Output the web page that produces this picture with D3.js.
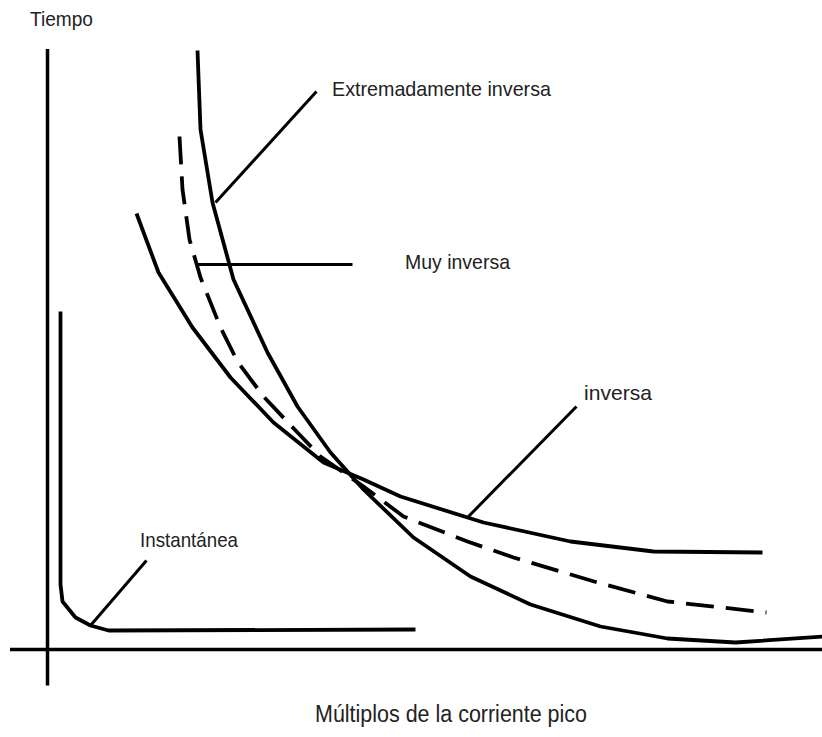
<!DOCTYPE html>
<head>
  <meta charset="utf-8">
  <script src="https://d3js.org/d3.v7.min.js"></script>
  <style>
    body { margin: 0; background: #fff; }
    svg { display: block; }
    text { font-family: "Liberation Sans Narrow", "Arial Narrow", "Liberation Sans", sans-serif; fill: #222; }
  </style>
</head>

<body>
  <script type='text/javascript'>

    // curves, in schematic units (x: multiples, y: time)
    var extremelyInverse = [[15.0, 59.9], [15.3, 52.0], [16.5, 44.7], [18.6, 37.0], [22.0, 29.7],
      [25.0, 24.3], [28.3, 19.7], [31.6, 16.0], [36.6, 11.2], [42.3, 7.3], [48.3, 4.5],
      [55.3, 2.3], [62.0, 1.1], [68.8, 0.7], [77.5, 1.3]];

    var veryInverse = [[13.2, 51.3], [13.5, 46.0], [14.2, 41.0], [15.3, 37.2], [17.3, 32.2],
      [19.0, 28.8], [21.6, 25.3], [25.0, 21.7], [27.3, 19.3], [31.6, 16.3], [35.6, 13.3],
      [42.0, 10.8], [46.6, 9.2], [55.0, 6.7], [62.0, 4.8], [71.9, 3.7]];

    var inverse = [[8.9, 43.6], [11.1, 37.7], [14.5, 32.2], [18.3, 27.2], [22.6, 22.7],
      [27.6, 18.7], [31.6, 17.0], [35.3, 15.3], [43.6, 12.7], [52.3, 10.8], [60.6, 9.8], [71.5, 9.7]];

    var instantaneous = [[1.3, 33.8], [1.3, 6.5], [1.5, 4.8], [2.8, 3.2], [4.3, 2.4], [6.1, 1.9], [36.8, 2.0]];

    // leader lines from label to curve
    var leaders = [
      [[16.8, 44.7], [26.9, 55.8]],
      [[14.9, 38.5], [30.5, 38.5]],
      [[42.1, 13.3], [52.9, 24.3]],
      [[4.3, 2.4], [9.9, 8.9]]
    ];

    var labelNames = ["Tiempo", "Extremadamente inversa", "Muy inversa", "inversa", "Instantánea", "Múltiplos de la corriente pico"];
    var labelAnchors = [[-1.75, 62.4], [28.45, 55.4], [35.75, 38.1], [53.65, 25.0], [9.25, 10.25], [26.75, -7.25]];
    var labelWidths = [63, 219, 105, 68, 98, 272];
    var labelSizes = [20, 21, 21, 21, 21, 23];

    var width = 822;
    var height = 737;

    var svg = d3.select('body')
      .append('svg')
      .attr("width", width)
      .attr("height", height);

    var x = d3.scaleLinear().domain([0, 77.45]).range([47.5, 822]);
    var y = d3.scaleLinear().domain([0, 60]).range([649.5, 49.5]);

    var line = d3.line()
      .x(d => x(d[0]))
      .y(d => y(d[1]));

    // axes (no ticks, just the two lines)
    svg.append("line")
      .attr("x1", x(0)).attr("x2", x(0))
      .attr("y1", y(60.05)).attr("y2", y(-3.6))
      .attr("stroke", "#000").attr("stroke-width", 3.5);

    svg.append("line")
      .attr("x1", x(-3.75)).attr("x2", x(77.45))
      .attr("y1", y(0)).attr("y2", y(0))
      .attr("stroke", "#000").attr("stroke-width", 3.5);

    var curves = [
      { pts: extremelyInverse, dash: null, w: 3.8 },
      { pts: veryInverse, dash: "28,12", w: 3.8 },
      { pts: inverse, dash: null, w: 3.8 },
      { pts: instantaneous, dash: null, w: 3.8 }
    ];

    svg.selectAll(".curve")
      .data(curves)
      .enter().append("path")
      .attr("class", "curve")
      .attr("d", d => line(d.pts))
      .attr("fill", "none")
      .attr("stroke", "#000")
      .attr("stroke-width", d => d.w)
      .attr("stroke-linejoin", "round")
      .attr("stroke-dasharray", d => d.dash);

    svg.selectAll(".leader")
      .data(leaders)
      .enter().append("path")
      .attr("class", "leader")
      .attr("d", d => line(d))
      .attr("fill", "none")
      .attr("stroke", "#000")
      .attr("stroke-width", 3);

    svg.selectAll(".label")
      .data(labelNames)
      .enter().append("text")
      .attr("class", "label")
      .attr("x", (d, i) => x(labelAnchors[i][0]))
      .attr("y", (d, i) => y(labelAnchors[i][1]))
      .attr("font-size", (d, i) => labelSizes[i])
      .attr("textLength", (d, i) => labelWidths[i])
      .attr("lengthAdjust", "spacingAndGlyphs")
      .text(d => d);

  </script>
</body>
